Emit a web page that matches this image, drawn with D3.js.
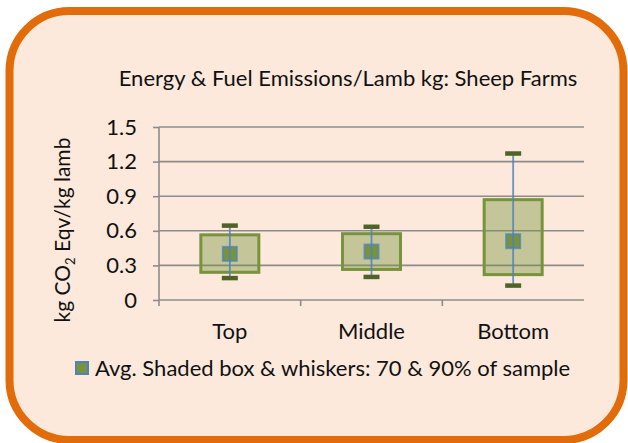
<!DOCTYPE html>
<html>
<head>
<meta charset="utf-8">
<script src="https://cdn.jsdelivr.net/npm/d3@7"></script>
<style>
  body { margin: 0; background: #fff; }
  text { font-family: Lato, "Noto Sans", sans-serif; fill: #111; }
</style>
</head>
<body>
<div id="chart"></div>
<script>
const categories = ['Top', 'Middle', 'Bottom'];
const avgValues = [0.40, 0.42, 0.51];
const boxLow = [0.24, 0.265, 0.22];
const boxHigh = [0.565, 0.575, 0.87];
const whiskerLow = [0.19, 0.20, 0.125];
const whiskerHigh = [0.645, 0.635, 1.27];
const yTicks = [0, 0.3, 0.6, 0.9, 1.2, 1.5];

const data = categories.map((c, i) => ({
  cat: c, avg: avgValues[i], lo: boxLow[i], hi: boxHigh[i], wlo: whiskerLow[i], whi: whiskerHigh[i]
}));

const W = 628, H = 443;
const margin = { top: 127, right: 44, bottom: 143, left: 159 };
const width = W - margin.left - margin.right;
const height = H - margin.top - margin.bottom;

const svg = d3.select('#chart').append('svg')
    .attr('width', W)
    .attr('height', H);

// frame
svg.append('rect')
    .attr('x', 9.5).attr('y', 11)
    .attr('width', 614).attr('height', 429)
    .attr('rx', 60).attr('ry', 60)
    .style('fill', '#fce9db')
    .style('stroke', '#e36c0a')
    .style('stroke-width', 8);

svg.append('text')
    .attr('x', 348).attr('y', 86)
    .style('text-anchor', 'middle')
    .style('font-size', '22px')
    .text('Energy & Fuel Emissions/Lamb kg: Sheep Farms');

const g = svg.append('g')
    .attr('transform', `translate(${margin.left}, ${margin.top})`);

const x = d3.scaleBand()
    .domain(categories)
    .range([0, width]);

const y = d3.scaleLinear()
    .domain([0, 1.5])
    .range([height, 0]);

// gridlines
g.append('g')
    .selectAll('line')
    .data(yTicks.filter((t) => t > 0))
  .enter()
    .append('line')
    .attr('x1', 0).attr('x2', width)
    .attr('y1', (d) => y(d)).attr('y2', (d) => y(d))
    .style('stroke', '#8c8c8c')
    .style('stroke-width', 1.6);

const yAxis = d3.axisLeft(y)
    .tickValues(yTicks)
    .tickSize(6)
    .tickPadding(16)
    .tickFormat((d) => (d === 0 ? '0' : d3.format('.1f')(d)));

const yg = g.append('g').call(yAxis);
yg.select('.domain').remove();
yg.selectAll('line').style('stroke', '#8c8c8c').style('stroke-width', 1.6);
yg.selectAll('text').style('font-size', '22px').style('font-family', 'Lato, sans-serif').style('fill', '#111');

// axis lines
g.append('line')
    .attr('x1', 0).attr('x2', 0).attr('y1', 0).attr('y2', height + 6)
    .style('stroke', '#8c8c8c').style('stroke-width', 1.6);
g.append('line')
    .attr('x1', 0).attr('x2', width).attr('y1', height).attr('y2', height)
    .style('stroke', '#8c8c8c').style('stroke-width', 1.6);

// category boundary ticks
g.append('g')
    .selectAll('line')
    .data(categories.slice(1))
  .enter()
    .append('line')
    .attr('x1', (d) => x(d)).attr('x2', (d) => x(d))
    .attr('y1', height).attr('y2', height + 6)
    .style('stroke', '#8c8c8c').style('stroke-width', 1.6);

g.append('g')
    .selectAll('text')
    .data(categories)
  .enter()
    .append('text')
    .attr('x', (d) => x(d) + x.bandwidth() / 2)
    .attr('y', height + 39)
    .style('text-anchor', 'middle')
    .style('font-size', '22px')
    .text((d) => d);

// y label
const yl = svg.append('text')
    .attr('transform', 'translate(70, 230) rotate(-90)')
    .style('text-anchor', 'middle')
    .style('font-size', '21px');
yl.append('tspan').text('kg CO');
yl.append('tspan').attr('dy', 5).style('font-size', '13px').text('2');
yl.append('tspan').attr('dy', -5).text(' Eqv/kg lamb');

const boxW = 58;
const cat = g.selectAll('.cat')
    .data(data)
  .enter()
    .append('g')
    .attr('transform', (d) => `translate(${x(d.cat) + x.bandwidth() / 2},0)`);

cat.append('rect')
    .attr('x', -boxW / 2)
    .attr('width', boxW)
    .attr('y', (d) => y(d.hi))
    .attr('height', (d) => y(d.lo) - y(d.hi))
    .style('fill', 'rgba(119,147,60,0.42)')
    .style('stroke', '#77933c')
    .style('stroke-width', 3);

cat.append('rect')
    .attr('x', -7).attr('width', 14)
    .attr('y', (d) => y(d.avg) - 7).attr('height', 14)
    .style('fill', '#77933c')
    .style('stroke', 'rgba(79,129,189,0.75)')
    .style('stroke-width', 2);

cat.append('line')
    .attr('x1', 0).attr('x2', 0)
    .attr('y1', (d) => y(d.whi)).attr('y2', (d) => y(d.wlo))
    .style('stroke', 'rgba(79,129,189,0.85)')
    .style('stroke-width', 1.8);

['whi', 'wlo'].forEach((k) => {
  cat.append('line')
      .attr('x1', -8).attr('x2', 8)
      .attr('y1', (d) => y(d[k])).attr('y2', (d) => y(d[k]))
      .style('stroke', '#4f6228')
      .style('stroke-width', 4.5);
});

// legend
svg.append('rect')
    .attr('x', 76).attr('y', 362)
    .attr('width', 12).attr('height', 12)
    .style('fill', '#77933c')
    .style('stroke', '#4f81bd')
    .style('stroke-width', 2);
svg.append('text')
    .attr('x', 95).attr('y', 376)
    .style('font-size', '22px')
    .text('Avg. Shaded box & whiskers: 70 & 90% of sample');
</script>
</body>
</html>
